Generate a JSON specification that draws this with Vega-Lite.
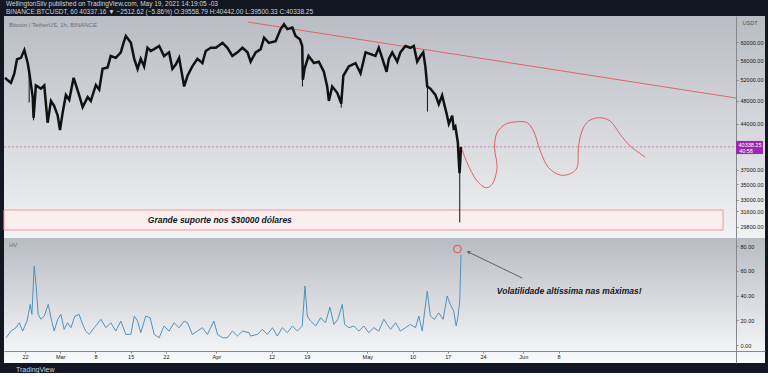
{
  "$schema": "https://vega.github.io/schema/vega-lite/v6.json",
  "background": "#131722",
  "padding": {"left": 0, "right": 3, "top": 1, "bottom": 0},
  "bounds": "flush",
  "title": {
    "text": "WellingtonSilv published on TradingView.com, May 19, 2021 14:19:05 -03",
    "subtitle": "BINANCE:BTCUSDT, 60  40337.16 ▼ −2512.62 (−5.86%)  O:39558.79  H:40442.00  L:39500.33  C:40338.25",
    "anchor": "start", "dx": 2, "frame": "group",
    "font": "Liberation Sans", "subtitleFont": "Liberation Sans",
    "fontSize": 6.5, "subtitleFontSize": 6.5, "fontWeight": "normal",
    "color": "#d1d4dc", "subtitleColor": "#d1d4dc",
    "offset": 1, "subtitlePadding": 1
  },
  "spacing": 0,
  "resolve": {"scale": {"x": "independent", "y": "independent"}},
  "config": {
    "view": {"stroke": null},
    "axis": {"labelFont": "Liberation Sans", "labelFontSize": 5.5, "labelColor": "#131722", "domainColor": "#85888f", "tickColor": "#85888f", "tickSize": 2, "labelPadding": 2, "grid": false, "title": null, "labelOverlap": false}
  },
  "datasets": {
    "one": [{}],
    "price": [
      {"t": "2021-02-18T01:00", "p": 52400}, {"t": "2021-02-18T14:00", "p": 51900}, {"t": "2021-02-19T05:00", "p": 51400}, {"t": "2021-02-19T21:00", "p": 53200},
      {"t": "2021-02-20T10:00", "p": 56200}, {"t": "2021-02-21T05:00", "p": 56500}, {"t": "2021-02-21T21:00", "p": 58200}, {"t": "2021-02-22T13:00", "p": 55400},
      {"t": "2021-02-22T20:00", "p": 53600}, {"t": "2021-02-23T13:00", "p": 48700}, {"t": "2021-02-23T17:00", "p": 45000}, {"t": "2021-02-24T04:00", "p": 50900},
      {"t": "2021-02-25T04:00", "p": 50300}, {"t": "2021-02-25T20:00", "p": 50900}, {"t": "2021-02-26T12:00", "p": 44200}, {"t": "2021-02-27T04:00", "p": 48000},
      {"t": "2021-02-27T19:00", "p": 47100}, {"t": "2021-02-28T12:00", "p": 45400}, {"t": "2021-02-28T23:00", "p": 43000}, {"t": "2021-03-01T12:00", "p": 46000},
      {"t": "2021-03-02T03:00", "p": 49100}, {"t": "2021-03-02T19:00", "p": 48200}, {"t": "2021-03-03T16:00", "p": 52400}, {"t": "2021-03-04T18:00", "p": 49100},
      {"t": "2021-03-05T11:00", "p": 46900}, {"t": "2021-03-06T11:00", "p": 48700}, {"t": "2021-03-07T02:00", "p": 48000}, {"t": "2021-03-08T02:00", "p": 51000},
      {"t": "2021-03-08T18:00", "p": 50100}, {"t": "2021-03-09T10:00", "p": 54200}, {"t": "2021-03-10T10:00", "p": 54500}, {"t": "2021-03-11T01:00", "p": 56900},
      {"t": "2021-03-12T01:00", "p": 56500}, {"t": "2021-03-13T01:00", "p": 57700}, {"t": "2021-03-13T14:00", "p": 59800}, {"t": "2021-03-14T01:00", "p": 61400},
      {"t": "2021-03-15T01:00", "p": 59800}, {"t": "2021-03-15T17:00", "p": 56300}, {"t": "2021-03-16T09:00", "p": 54200}, {"t": "2021-03-17T00:00", "p": 56300},
      {"t": "2021-03-17T16:00", "p": 54700}, {"t": "2021-03-18T08:00", "p": 58700}, {"t": "2021-03-19T00:00", "p": 58000}, {"t": "2021-03-19T16:00", "p": 58400},
      {"t": "2021-03-20T16:00", "p": 59100}, {"t": "2021-03-21T15:00", "p": 56900}, {"t": "2021-03-22T15:00", "p": 57700}, {"t": "2021-03-23T07:00", "p": 54200},
      {"t": "2021-03-23T23:00", "p": 55100}, {"t": "2021-03-24T15:00", "p": 56500}, {"t": "2021-03-25T15:00", "p": 50700}, {"t": "2021-03-26T07:00", "p": 52800},
      {"t": "2021-03-27T06:00", "p": 54700}, {"t": "2021-03-28T06:00", "p": 56300}, {"t": "2021-03-29T06:00", "p": 55400}, {"t": "2021-03-29T22:00", "p": 58000},
      {"t": "2021-03-30T22:00", "p": 58700}, {"t": "2021-03-31T22:00", "p": 58700}, {"t": "2021-04-02T06:00", "p": 59800}, {"t": "2021-04-03T05:00", "p": 58700},
      {"t": "2021-04-04T05:00", "p": 56900}, {"t": "2021-04-05T05:00", "p": 57700}, {"t": "2021-04-06T05:00", "p": 58700}, {"t": "2021-04-07T05:00", "p": 57700},
      {"t": "2021-04-07T20:00", "p": 55700}, {"t": "2021-04-08T20:00", "p": 57700}, {"t": "2021-04-09T20:00", "p": 58400}, {"t": "2021-04-10T12:00", "p": 61000},
      {"t": "2021-04-11T11:00", "p": 59800}, {"t": "2021-04-12T19:00", "p": 60200}, {"t": "2021-04-13T19:00", "p": 63000}, {"t": "2021-04-14T11:00", "p": 64200},
      {"t": "2021-04-15T03:00", "p": 63000}, {"t": "2021-04-16T03:00", "p": 63400}, {"t": "2021-04-16T18:00", "p": 61400}, {"t": "2021-04-17T15:00", "p": 60600},
      {"t": "2021-04-18T02:00", "p": 59100}, {"t": "2021-04-18T05:00", "p": 52000}, {"t": "2021-04-18T13:00", "p": 54200}, {"t": "2021-04-19T08:00", "p": 56900},
      {"t": "2021-04-20T10:00", "p": 55400}, {"t": "2021-04-21T09:00", "p": 55700}, {"t": "2021-04-22T09:00", "p": 53600}, {"t": "2021-04-23T01:00", "p": 50700},
      {"t": "2021-04-23T09:00", "p": 48000}, {"t": "2021-04-24T01:00", "p": 50700}, {"t": "2021-04-25T01:00", "p": 49500}, {"t": "2021-04-25T20:00", "p": 47500},
      {"t": "2021-04-26T06:00", "p": 52800}, {"t": "2021-04-27T08:00", "p": 54700}, {"t": "2021-04-28T16:00", "p": 55400}, {"t": "2021-04-29T16:00", "p": 53300},
      {"t": "2021-04-30T16:00", "p": 57700}, {"t": "2021-05-01T16:00", "p": 57300}, {"t": "2021-05-02T15:00", "p": 56900}, {"t": "2021-05-03T07:00", "p": 58700},
      {"t": "2021-05-03T23:00", "p": 56500}, {"t": "2021-05-04T20:00", "p": 53600}, {"t": "2021-05-05T07:00", "p": 56300}, {"t": "2021-05-05T23:00", "p": 57700},
      {"t": "2021-05-06T23:00", "p": 55700}, {"t": "2021-05-07T14:00", "p": 57700}, {"t": "2021-05-08T14:00", "p": 59100}, {"t": "2021-05-09T14:00", "p": 58700},
      {"t": "2021-05-10T06:00", "p": 59100}, {"t": "2021-05-10T22:00", "p": 55700}, {"t": "2021-05-11T14:00", "p": 56900}, {"t": "2021-05-12T03:00", "p": 57700},
      {"t": "2021-05-12T13:00", "p": 54700}, {"t": "2021-05-12T22:00", "p": 50700}, {"t": "2021-05-13T13:00", "p": 50300}, {"t": "2021-05-14T13:00", "p": 49100},
      {"t": "2021-05-15T05:00", "p": 47400}, {"t": "2021-05-15T21:00", "p": 49000}, {"t": "2021-05-16T09:00", "p": 47100}, {"t": "2021-05-16T18:00", "p": 45800},
      {"t": "2021-05-17T05:00", "p": 44000}, {"t": "2021-05-17T21:00", "p": 45400}, {"t": "2021-05-18T04:00", "p": 43300}, {"t": "2021-05-18T12:00", "p": 43600},
      {"t": "2021-05-19T00:00", "p": 41000}, {"t": "2021-05-19T04:00", "p": 38500}, {"t": "2021-05-19T08:00", "p": 36500}, {"t": "2021-05-19T11:00", "p": 38000},
      {"t": "2021-05-19T15:00", "p": 40338}
    ],
    "wicks": [
      {"t": "2021-02-22T20:00", "lo": 47700, "hi": 54000},
      {"t": "2021-02-23T17:00", "lo": 44600, "hi": 46500},
      {"t": "2021-04-18T03:00", "lo": 50700, "hi": 59500},
      {"t": "2021-04-25T20:00", "lo": 46800, "hi": 49000},
      {"t": "2021-05-12T23:00", "lo": 46100, "hi": 51500},
      {"t": "2021-05-19T09:00", "lo": 30300, "hi": 39000}
    ],
    "trend": [
      {"t": "2021-04-07T06:00", "p": 64720},
      {"t": "2021-07-13T06:30", "p": 48530}
    ],
    "wave": [
      {"i": 1, "t": "2021-05-19T20:00", "p": 39960}, {"i": 2, "t": "2021-05-20T20:00", "p": 37990}, {"i": 3, "t": "2021-05-22T20:00", "p": 35440},
      {"i": 4, "t": "2021-05-24T16:00", "p": 34550}, {"i": 5, "t": "2021-05-25T19:00", "p": 35000}, {"i": 6, "t": "2021-05-26T19:00", "p": 37270},
      {"i": 7, "t": "2021-05-26T07:00", "p": 40210}, {"i": 8, "t": "2021-05-26T19:00", "p": 42560}, {"i": 9, "t": "2021-05-28T11:00", "p": 43930},
      {"i": 10, "t": "2021-05-30T18:00", "p": 44360}, {"i": 11, "t": "2021-06-01T18:00", "p": 44200}, {"i": 12, "t": "2021-06-03T01:00", "p": 42830},
      {"i": 13, "t": "2021-06-04T09:00", "p": 39710}, {"i": 14, "t": "2021-06-06T01:00", "p": 37270}, {"i": 15, "t": "2021-06-08T08:00", "p": 36250},
      {"i": 16, "t": "2021-06-10T08:00", "p": 36430}, {"i": 17, "t": "2021-06-11T16:00", "p": 37270}, {"i": 18, "t": "2021-06-11T23:00", "p": 40210},
      {"i": 19, "t": "2021-06-12T16:00", "p": 42830}, {"i": 20, "t": "2021-06-13T23:00", "p": 44480}, {"i": 21, "t": "2021-06-16T04:00", "p": 45040},
      {"i": 22, "t": "2021-06-18T06:00", "p": 44480}, {"i": 23, "t": "2021-06-20T06:00", "p": 42290}, {"i": 24, "t": "2021-06-22T06:00", "p": 40460},
      {"i": 25, "t": "2021-06-25T05:00", "p": 38810}
    ],
    "hv": [
      {"t": "2021-02-18T06:00", "v": 5.9}, {"t": "2021-02-19T05:00", "v": 11.3}, {"t": "2021-02-20T05:00", "v": 14}, {"t": "2021-02-20T21:00", "v": 18},
      {"t": "2021-02-21T13:00", "v": 11.3}, {"t": "2021-02-22T10:00", "v": 19.4}, {"t": "2021-02-23T01:00", "v": 32.9}, {"t": "2021-02-23T09:00", "v": 24.8},
      {"t": "2021-02-23T20:00", "v": 63.8}, {"t": "2021-02-24T06:00", "v": 46.3}, {"t": "2021-02-24T15:00", "v": 24.8}, {"t": "2021-02-25T04:00", "v": 20.8},
      {"t": "2021-02-25T20:00", "v": 23.4}, {"t": "2021-02-26T15:00", "v": 32.9}, {"t": "2021-02-27T04:00", "v": 22}, {"t": "2021-02-27T19:00", "v": 11.3},
      {"t": "2021-02-28T12:00", "v": 20.8}, {"t": "2021-03-01T03:00", "v": 24.8}, {"t": "2021-03-01T19:00", "v": 12.7}, {"t": "2021-03-02T11:00", "v": 18},
      {"t": "2021-03-03T03:00", "v": 14}, {"t": "2021-03-03T22:00", "v": 23.4}, {"t": "2021-03-04T18:00", "v": 24.8}, {"t": "2021-03-05T11:00", "v": 16.7},
      {"t": "2021-03-06T02:00", "v": 11.3}, {"t": "2021-03-06T18:00", "v": 8.6}, {"t": "2021-03-07T18:00", "v": 14}, {"t": "2021-03-09T02:00", "v": 20.8},
      {"t": "2021-03-10T02:00", "v": 14}, {"t": "2021-03-11T01:00", "v": 18}, {"t": "2021-03-12T01:00", "v": 11.3}, {"t": "2021-03-13T01:00", "v": 19.4},
      {"t": "2021-03-14T01:00", "v": 8.6}, {"t": "2021-03-15T01:00", "v": 8.6}, {"t": "2021-03-15T17:00", "v": 23.4}, {"t": "2021-03-16T09:00", "v": 19.4},
      {"t": "2021-03-17T00:00", "v": 10}, {"t": "2021-03-18T00:00", "v": 23.4}, {"t": "2021-03-18T21:00", "v": 22}, {"t": "2021-03-19T16:00", "v": 8.6},
      {"t": "2021-03-20T16:00", "v": 5.9}, {"t": "2021-03-21T15:00", "v": 15.4}, {"t": "2021-03-22T15:00", "v": 11.3}, {"t": "2021-03-23T15:00", "v": 18},
      {"t": "2021-03-24T15:00", "v": 14}, {"t": "2021-03-25T15:00", "v": 19.4}, {"t": "2021-03-26T07:00", "v": 18}, {"t": "2021-03-27T06:00", "v": 8.6},
      {"t": "2021-03-28T06:00", "v": 11.3}, {"t": "2021-03-29T06:00", "v": 14}, {"t": "2021-03-30T06:00", "v": 8.6}, {"t": "2021-03-31T13:00", "v": 19.4},
      {"t": "2021-04-01T06:00", "v": 8.6}, {"t": "2021-04-02T06:00", "v": 5.9}, {"t": "2021-04-03T05:00", "v": 5.9}, {"t": "2021-04-04T05:00", "v": 11.3},
      {"t": "2021-04-05T05:00", "v": 7.3}, {"t": "2021-04-06T05:00", "v": 11.3}, {"t": "2021-04-07T12:00", "v": 10}, {"t": "2021-04-07T20:00", "v": 7.3},
      {"t": "2021-04-09T04:00", "v": 8.6}, {"t": "2021-04-10T04:00", "v": 12.7}, {"t": "2021-04-11T04:00", "v": 8.6}, {"t": "2021-04-12T04:00", "v": 14},
      {"t": "2021-04-13T03:00", "v": 7.3}, {"t": "2021-04-14T03:00", "v": 14}, {"t": "2021-04-15T03:00", "v": 10}, {"t": "2021-04-16T03:00", "v": 15.4},
      {"t": "2021-04-17T03:00", "v": 11.3}, {"t": "2021-04-18T02:00", "v": 15.4}, {"t": "2021-04-18T15:00", "v": 47.7}, {"t": "2021-04-19T02:00", "v": 23.4},
      {"t": "2021-04-19T18:00", "v": 19.4}, {"t": "2021-04-20T18:00", "v": 15.4}, {"t": "2021-04-21T18:00", "v": 22}, {"t": "2021-04-22T17:00", "v": 18},
      {"t": "2021-04-23T14:00", "v": 30.7}, {"t": "2021-04-24T09:00", "v": 16.7}, {"t": "2021-04-25T04:00", "v": 20.8}, {"t": "2021-04-26T01:00", "v": 32.9},
      {"t": "2021-04-26T12:00", "v": 16.7}, {"t": "2021-04-27T08:00", "v": 14}, {"t": "2021-04-28T08:00", "v": 15.4}, {"t": "2021-04-29T08:00", "v": 11.3},
      {"t": "2021-04-30T08:00", "v": 15.4}, {"t": "2021-05-01T07:00", "v": 10}, {"t": "2021-05-02T07:00", "v": 14}, {"t": "2021-05-03T07:00", "v": 11.3},
      {"t": "2021-05-04T07:00", "v": 20.8}, {"t": "2021-05-04T23:00", "v": 16.7}, {"t": "2021-05-05T15:00", "v": 12.7}, {"t": "2021-05-06T15:00", "v": 18},
      {"t": "2021-05-07T14:00", "v": 11.3}, {"t": "2021-05-08T14:00", "v": 14}, {"t": "2021-05-09T14:00", "v": 16.7}, {"t": "2021-05-10T14:00", "v": 14},
      {"t": "2021-05-11T06:00", "v": 23.4}, {"t": "2021-05-11T22:00", "v": 11.3}, {"t": "2021-05-12T22:00", "v": 43.6}, {"t": "2021-05-13T13:00", "v": 23.4},
      {"t": "2021-05-14T08:00", "v": 20.8}, {"t": "2021-05-15T05:00", "v": 26}, {"t": "2021-05-16T02:00", "v": 20.8}, {"t": "2021-05-16T21:00", "v": 39.6},
      {"t": "2021-05-17T12:00", "v": 32.9}, {"t": "2021-05-18T04:00", "v": 27.5}, {"t": "2021-05-18T16:00", "v": 15.4}, {"t": "2021-05-19T00:00", "v": 22},
      {"t": "2021-05-19T09:00", "v": 35.6}, {"t": "2021-05-19T15:00", "v": 73.3}
    ]
  },
  "vconcat": [
    {
      "width": 761, "height": 222,
      "view": {"stroke": null, "fill": {"gradient": "linear", "x1": 0, "y1": 0, "x2": 0, "y2": 1, "stops": [{"offset": 0, "color": "#b9bcc3"}, {"offset": 1, "color": "#f1f2f4"}]}},
      "layer": [
        {
          "data": {"name": "one"},
          "mark": {"type": "rect", "fill": "#fbeeee", "stroke": "#ef9a9a", "strokeWidth": 1},
          "encoding": {
            "x": {"datum": {"year": 2021, "month": 2, "date": 17, "hours": 20}, "type": "temporal", "axis": null,
                  "scale": {"domain": [{"year": 2021, "month": 2, "date": 17, "hours": 20}, {"year": 2021, "month": 7, "date": 19, "hours": 0, "minutes": 30}]}},
            "x2": {"datum": {"year": 2021, "month": 7, "date": 10, "hours": 16, "minutes": 30}},
            "y": {"datum": 29440, "type": "quantitative", "scale": {"type": "log", "domain": [28560, 66210], "nice": false, "zero": false},
                  "axis": {"orient": "right", "offset": -29, "values": [29800, 31600, 33000, 35000, 37000, 44000, 48000, 52000, 56000, 60000], "format": ".2f"}},
            "y2": {"datum": 31750}
          }
        },
        {
          "data": {"name": "one"},
          "mark": {"type": "rule", "stroke": "#c58fb4", "strokeDash": [2, 2], "strokeWidth": 1},
          "encoding": {
            "x": {"datum": {"year": 2021, "month": 2, "date": 17, "hours": 20}, "type": "temporal", "axis": null},
            "x2": {"datum": {"year": 2021, "month": 7, "date": 13, "hours": 6, "minutes": 30}},
            "y": {"datum": 40338, "type": "quantitative", "axis": {"orient": "right", "offset": -29, "values": [29800, 31600, 33000, 35000, 37000, 44000, 48000, 52000, 56000, 60000], "format": ".2f"}}
          }
        },
        {
          "data": {"name": "trend"},
          "mark": {"type": "line", "stroke": "#e06666", "strokeWidth": 1},
          "encoding": {"x": {"field": "t", "type": "temporal", "axis": null}, "y": {"field": "p", "type": "quantitative", "axis": {"orient": "right", "offset": -29, "values": [29800, 31600, 33000, 35000, 37000, 44000, 48000, 52000, 56000, 60000], "format": ".2f"}}}
        },
        {
          "data": {"name": "wicks"},
          "mark": {"type": "rule", "stroke": "#111111", "strokeWidth": 1},
          "encoding": {"x": {"field": "t", "type": "temporal", "axis": null}, "y": {"field": "lo", "type": "quantitative", "axis": {"orient": "right", "offset": -29, "values": [29800, 31600, 33000, 35000, 37000, 44000, 48000, 52000, 56000, 60000], "format": ".2f"}}, "y2": {"field": "hi"}}
        },
        {
          "data": {"name": "price"},
          "mark": {"type": "line", "stroke": "#111111", "strokeWidth": 2.5, "strokeJoin": "miter"},
          "encoding": {"x": {"field": "t", "type": "temporal", "axis": null}, "y": {"field": "p", "type": "quantitative", "axis": {"orient": "right", "offset": -29, "values": [29800, 31600, 33000, 35000, 37000, 44000, 48000, 52000, 56000, 60000], "format": ".2f"}}}
        },
        {
          "data": {"name": "wave"},
          "mark": {"type": "line", "stroke": "#e06060", "strokeWidth": 1, "interpolate": "catmull-rom"},
          "encoding": {"x": {"field": "t", "type": "temporal", "axis": null}, "y": {"field": "p", "type": "quantitative", "axis": {"orient": "right", "offset": -29, "values": [29800, 31600, 33000, 35000, 37000, 44000, 48000, 52000, 56000, 60000], "format": ".2f"}}, "order": {"field": "i", "type": "quantitative"}}
        },
        {
          "data": {"name": "one"},
          "mark": {"type": "text", "text": "Grande suporte nos $30000 dólares", "font": "Liberation Sans", "fontStyle": "italic", "fontWeight": "bold", "fontSize": 8.5, "color": "#131722", "align": "center", "baseline": "middle"},
          "encoding": {"x": {"datum": {"year": 2021, "month": 4, "date": 1, "hours": 17}, "type": "temporal", "axis": null}, "y": {"datum": 30580, "type": "quantitative", "axis": {"orient": "right", "offset": -29, "values": [29800, 31600, 33000, 35000, 37000, 44000, 48000, 52000, 56000, 60000], "format": ".2f"}}}
        },
        {
          "data": {"name": "one"},
          "mark": {"type": "text", "text": "Bitcoin / TetherUS, 1h, BINANCE", "font": "Liberation Sans", "fontSize": 6, "color": "#6b6e76", "align": "left", "baseline": "middle"},
          "encoding": {"x": {"datum": {"year": 2021, "month": 2, "date": 18, "hours": 20}, "type": "temporal", "axis": null}, "y": {"datum": 63990, "type": "quantitative", "axis": {"orient": "right", "offset": -29, "values": [29800, 31600, 33000, 35000, 37000, 44000, 48000, 52000, 56000, 60000], "format": ".2f"}}}
        },
        {
          "data": {"name": "one"},
          "mark": {"type": "text", "text": "USDT", "font": "Liberation Sans", "fontSize": 5.5, "color": "#50535b", "align": "center", "baseline": "middle"},
          "encoding": {"x": {"datum": {"year": 2021, "month": 7, "date": 16, "hours": 1}, "type": "temporal", "axis": null}, "y": {"datum": 64480, "type": "quantitative", "axis": {"orient": "right", "offset": -29, "values": [29800, 31600, 33000, 35000, 37000, 44000, 48000, 52000, 56000, 60000], "format": ".2f"}}}
        },
        {
          "data": {"name": "one"},
          "mark": {"type": "rect", "fill": "#9c27b0"},
          "encoding": {
            "x": {"datum": {"year": 2021, "month": 7, "date": 13, "hours": 6, "minutes": 30}, "type": "temporal", "axis": null},
            "x2": {"datum": {"year": 2021, "month": 7, "date": 18, "hours": 15}},
            "y": {"datum": 41250, "type": "quantitative", "axis": {"orient": "right", "offset": -29, "values": [29800, 31600, 33000, 35000, 37000, 44000, 48000, 52000, 56000, 60000], "format": ".2f"}}, "y2": {"datum": 39250}
          }
        },
        {
          "data": {"name": "one"},
          "mark": {"type": "text", "text": "40338.25", "font": "Liberation Sans", "fontSize": 5.5, "color": "#ffffff", "align": "center", "baseline": "middle"},
          "encoding": {"x": {"datum": {"year": 2021, "month": 7, "date": 16, "hours": 1}, "type": "temporal", "axis": null}, "y": {"datum": 40610, "type": "quantitative", "axis": {"orient": "right", "offset": -29, "values": [29800, 31600, 33000, 35000, 37000, 44000, 48000, 52000, 56000, 60000], "format": ".2f"}}}
        },
        {
          "data": {"name": "one"},
          "mark": {"type": "text", "text": "40:58", "font": "Liberation Sans", "fontSize": 5.5, "color": "#ffffff", "align": "center", "baseline": "middle"},
          "encoding": {"x": {"datum": {"year": 2021, "month": 7, "date": 15, "hours": 6}, "type": "temporal", "axis": null}, "y": {"datum": 39710, "type": "quantitative", "axis": {"orient": "right", "offset": -29, "values": [29800, 31600, 33000, 35000, 37000, 44000, 48000, 52000, 56000, 60000], "format": ".2f"}}}
        }
      ]
    },
    {
      "width": 761, "height": 125,
      "title": {"text": "TradingView", "orient": "bottom", "anchor": "start", "dx": 12, "offset": 3, "font": "Liberation Sans", "fontSize": 7, "fontWeight": "normal", "color": "#d1d4dc"},
      "view": {"stroke": null, "fill": {"gradient": "linear", "x1": 0, "y1": 0, "x2": 0, "y2": 1, "stops": [{"offset": 0, "color": "#b8bbc2"}, {"offset": 0.9, "color": "#f3f4f6"}, {"offset": 1, "color": "#f8f9fa"}]}},
      "encoding": {
        "x": {"type": "temporal",
              "scale": {"domain": [{"year": 2021, "month": 2, "date": 17, "hours": 20}, {"year": 2021, "month": 7, "date": 19, "hours": 0, "minutes": 30}]},
              "axis": {"orient": "bottom", "offset": -12, "labelPadding": 1,
                       "values": [{"year": 2021, "month": 2, "date": 22}, {"year": 2021, "month": 3, "date": 1}, {"year": 2021, "month": 3, "date": 8}, {"year": 2021, "month": 3, "date": 15}, {"year": 2021, "month": 3, "date": 22}, {"year": 2021, "month": 4, "date": 1}, {"year": 2021, "month": 4, "date": 12}, {"year": 2021, "month": 4, "date": 19}, {"year": 2021, "month": 5, "date": 1}, {"year": 2021, "month": 5, "date": 10}, {"year": 2021, "month": 5, "date": 17}, {"year": 2021, "month": 5, "date": 24}, {"year": 2021, "month": 6, "date": 1}, {"year": 2021, "month": 6, "date": 8}],
                       "labelExpr": "date(datum.value) == 1 ? timeFormat(datum.value, '%b') : timeFormat(datum.value, '%-d')"}},
        "y": {"type": "quantitative", "scale": {"domain": [-14.5, 86.5], "nice": false, "zero": false},
              "axis": {"orient": "right", "offset": -29, "values": [0, 20, 40, 60, 80], "format": ".2f"}}
      },
      "layer": [
        {
          "data": {"name": "hv"},
          "mark": {"type": "line", "stroke": "#4f93c0", "strokeWidth": 1},
          "encoding": {"x": {"field": "t"}, "y": {"field": "v"}}
        },
        {
          "data": {"name": "one"},
          "mark": {"type": "text", "text": "HV", "font": "Liberation Sans", "fontSize": 6, "color": "#6b6e76", "align": "left", "baseline": "middle"},
          "encoding": {"x": {"datum": {"year": 2021, "month": 2, "date": 18, "hours": 20}}, "y": {"datum": 80.8}}
        },
        {
          "data": {"name": "one"},
          "mark": {"type": "rule", "stroke": "#5d6068", "strokeWidth": 1},
          "encoding": {
            "x": {"datum": {"year": 2021, "month": 5, "date": 31, "hours": 19}},
            "x2": {"datum": {"year": 2021, "month": 5, "date": 21, "hours": 2}},
            "y": {"datum": 54.1}, "y2": {"datum": 75.2}
          }
        },
        {
          "data": {"name": "one"},
          "mark": {"type": "point", "shape": "triangle-up", "angle": 296, "size": 16, "filled": true, "color": "#5d6068", "opacity": 1},
          "encoding": {"x": {"datum": {"year": 2021, "month": 5, "date": 21, "hours": 2}}, "y": {"datum": 75.2}}
        },
        {
          "data": {"name": "one"},
          "mark": {"type": "point", "shape": "circle", "size": 60, "filled": false, "stroke": "#e05050", "strokeWidth": 1, "opacity": 1},
          "encoding": {"x": {"datum": {"year": 2021, "month": 5, "date": 18, "hours": 22}}, "y": {"datum": 77.6}}
        },
        {
          "data": {"name": "one"},
          "mark": {"type": "text", "text": "Volatilidade altíssima nas máximas!", "font": "Liberation Sans", "fontStyle": "italic", "fontWeight": "bold", "fontSize": 8.5, "color": "#131722", "align": "center", "baseline": "middle"},
          "encoding": {"x": {"datum": {"year": 2021, "month": 6, "date": 10, "hours": 3}}, "y": {"datum": 43.6}}
        }
      ]
    }
  ]
}
